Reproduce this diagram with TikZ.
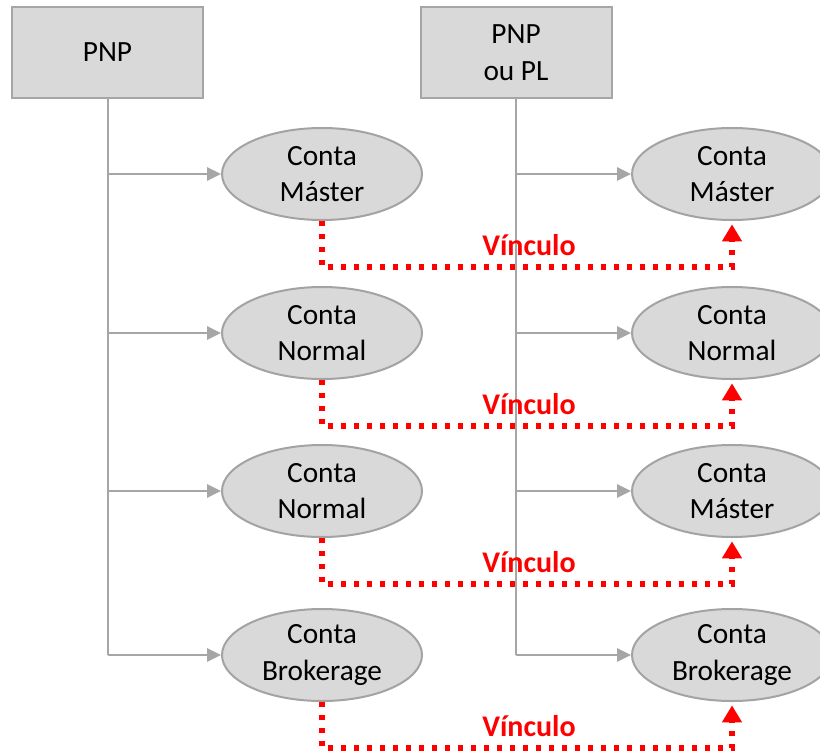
\documentclass[tikz,border=0pt]{standalone}
\usepackage{fontspec}
\setmainfont{Carlito}
\usetikzlibrary{arrows.meta,shapes.geometric,calc}
\definecolor{lgray}{HTML}{D9D9D9}
\definecolor{mgray}{HTML}{A6A6A6}
\definecolor{egray}{HTML}{A3A3A3}
\definecolor{vred}{HTML}{FF0000}
\begin{document}
\begin{tikzpicture}[x=0.75pt,y=-0.75pt,
  topbox/.style={rectangle,draw=mgray,fill=lgray,line width=1.5pt,minimum width=143.25pt,minimum height=68.25pt,inner sep=0pt,align=center,font=\fontsize{22}{27.5}\selectfont},
  acct/.style={ellipse,draw=egray,fill=lgray,line width=1.5pt,minimum width=150pt,minimum height=69pt,inner sep=0pt,align=center,font=\fontsize{22}{27.5}\selectfont},
  trunk/.style={draw=mgray,line width=1.5pt},
  branch/.style={draw=mgray,line width=1.5pt,-{Triangle[length=10.5pt,width=10pt]}},
  link/.style={draw=vred,line width=4pt,dash pattern=on 4pt off 5.75pt,-{Triangle[length=12.75pt,width=14.25pt]},shorten >=2.5pt},
  vlabel/.style={text=vred,font=\bfseries\fontsize{22.5}{27}\selectfont,inner sep=0pt}]
\clip (0,0) rectangle (820,753);
\fill[white] (0,0) rectangle (820,753);
% top boxes
\node[topbox] (lbox) at (107.5,52.5) {PNP};
\node[topbox] (rbox) at (516,52.5) {PNP\\ou PL};
% accounts
\node[acct] (l1) at (322,174) {Conta\\Máster};
\node[acct] (l2) at (322,333) {Conta\\Normal};
\node[acct] (l3) at (322,491) {Conta\\Normal};
\node[acct] (l4) at (322,655) {Conta\\Brokerage};
\node[acct] (r1) at (732,174) {Conta\\Máster};
\node[acct] (r2) at (732,333) {Conta\\Normal};
\node[acct] (r3) at (732,491) {Conta\\Máster};
\node[acct] (r4) at (732,655) {Conta\\Brokerage};
% junctions
\foreach \i in {1,...,4}{
  \coordinate (lj\i) at (lbox.south |- l\i.west);
  \coordinate (rj\i) at (rbox.south |- r\i.west);
}
\draw[trunk] (lbox.south) -- (lj4);
\draw[trunk] (rbox.south) -- (rj4);
\foreach \i in {1,...,4}{
  \draw[branch] (lj\i) -- (l\i.west);
  \draw[branch] (rj\i) -- (r\i.west);
}
% links
\foreach \i in {1,...,4}{
  \coordinate (c\i) at ($(l\i.center)+(0,93)$);
  \draw[link] (l\i.south) -- (l\i.south |- c\i) -| (r\i.south);
  \node[vlabel] (v\i) at ($(c\i)+(207,-22)$) {Vínculo};
}
\end{tikzpicture}
\end{document}
